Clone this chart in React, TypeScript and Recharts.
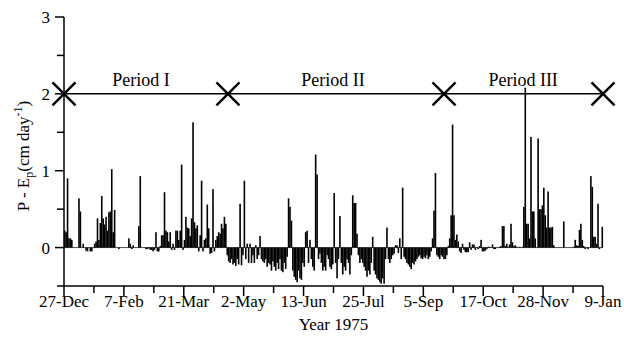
import React from 'react';
import { ComposedChart, Bar, Scatter, XAxis, YAxis, ReferenceLine } from 'recharts';

// Daily P - Ep (cm/day), from 27-Dec-1974 (day 0) to 8-Jan-1976 (day 377)
const peValues: number[] = [
  0.22, 0.2, 0.9, 0.12, 0.12, 0.1, 0, 0, 0, 0, 0.64, 0.47, 0, 0.05, 0, -0.04, -0.05, 0, -0.05, -0.05, 0,
  0.05, 0.08, 0.38, 0.1, 0.32, 0.67, 0.38, 0.3, 0.4, 0.22, 0.46, 0.47, 1.02, 0.2, 0.49, 0, 0, -0.02, 0, 0, 0,
  0, 0, 0, 0.12, 0.05, -0.02, 0.03, 0, 0, 0, 0.28, 0.93, 0, 0, 0, -0.02, -0.02, -0.01, -0.03, -0.03, -0.05,
  -0.03, 0.2, -0.05, -0.05, 0.02, 0.16, 0.16, 0.72, 0.22, 0.2, 0.08, 0.2, -0.03, 0.05, -0.03, 0.22, 0.22, 0.1, 0.22, 1.08, -0.03,
  0.1, 0.4, 0.26, 0.25, 0.15, 0.38, 1.63, 0.33, 0.25, 0.29, -0.05, 0.16, 0.87, -0.05, 0.1, 0.12, 0.56, 0.25, -0.08, -0.07, 0.76,
  -0.05, 0.1, 0.15, 0.2, 0.18, 0.31, 0.25, 0.4, 0.31, -0.1, -0.18, -0.2, -0.15, -0.22, -0.2, -0.24, -0.15, -0.22, 0.57, -0.23, -0.1,
  0.87, -0.15, 0.05, -0.2, 0.05, -0.2, -0.1, -0.2, 0.03, -0.15, -0.1, 0.15, -0.15, -0.18, -0.2, -0.15, -0.25, -0.2, -0.22, -0.3, -0.18,
  -0.25, -0.3, -0.2, -0.28, -0.15, -0.3, -0.32, -0.2, -0.28, -0.12, 0.64, 0.53, 0.35, -0.3, -0.38, -0.42, -0.45, -0.3, -0.4, -0.42, -0.2,
  -0.25, 0.2, 0.22, -0.2, 0.1, -0.15, -0.25, -0.3, 1.21, 0.95, -0.15, -0.08, -0.2, -0.3, -0.25, -0.3, -0.1, -0.15, -0.25, -0.28, -0.22,
  0.71, -0.2, -0.4, -0.15, 0.41, -0.2, -0.35, -0.25, -0.3, -0.15, -0.2, -0.35, -0.1, 0.68, 0.58, 0.58, 0.18, -0.1, -0.2, -0.15, -0.2,
  -0.25, -0.3, -0.38, -0.3, -0.35, -0.2, 0.14, -0.3, -0.35, -0.4, -0.42, -0.45, -0.47, -0.4, -0.47, -0.15, 0.26, -0.15, -0.2, -0.15, -0.1,
  -0.08, 0.03, 0.03, -0.07, 0.12, -0.15, 0.78, -0.12, -0.15, -0.2, -0.22, -0.25, -0.28, -0.2, -0.22, -0.18, -0.15, -0.12, -0.1, -0.14, -0.15,
  -0.12, -0.14, -0.1, -0.15, -0.12, -0.05, 0.12, 0.48, 0.97, -0.1, -0.12, -0.15, -0.1, -0.12, -0.15, -0.15, -0.1, 0.02, 0.12, 0.42, 1.6,
  0.42, 0.1, 0.17, 0.08, -0.05, -0.07, 0.05, -0.03, -0.06, -0.06, -0.06, 0.07, -0.03, 0.04, 0.04, -0.03, 0, -0.02, 0.02, 0.1, -0.05,
  -0.05, -0.04, -0.02, 0.01, 0.01, 0, 0.04, -0.02, -0.02, 0, 0, 0.01, 0.02, 0.28, 0.28, 0.02, 0.05, 0.01, 0.04, 0.31, 0.07,
  0.02, 0.03, 0.01, 0, 0.01, 0, 0.01, 0.53, 2.08, 0.31, 0.31, 0.12, 1.44, 0.47, 0.47, 0.12, 0, 1.42, 0.5, 0.5, 0.55,
  0.78, 0.42, 0.26, 0.73, 0.26, 0.26, 0.27, 0.03, 0, 0, 0, 0, 0, 0, 0.34, 0, 0, 0, 0, 0, 0,
  0.01, 0.1, 0.03, 0.02, 0.23, 0.31, 0.1, 0.02, -0.02, 0, -0.02, 0, 0.93, 0.79, 0.14, 0.14, 0.05, 0.57, -0.02, 0, 0.27,
];

const tickDays = [0, 21, 42, 63, 84, 105, 126, 147, 168, 189, 210, 231, 252, 273, 294, 315, 336, 357, 378];
const tickLabels = ['27-Dec', '7-Feb', '21-Mar', '2-May', '13-Jun', '25-Jul', '5-Sep', '17-Oct', '28-Nov', '9-Jan'];
const yTicks = [-0.5, 0, 0.5, 1, 1.5, 2, 2.5, 3];

const periodLevel = 2;
const periodMarkerDays = [0, 115, 266.5, 378];
const periodNames = ['Period I', 'Period II', 'Period III'];
const periodLabelDays = [54, 188.6, 322];

const table = peValues.map((v, i) => ({ day: i + 0.5, v }));
const markerData = periodMarkerDays.map((d) => ({ day: d, v: periodLevel }));
const labelData = periodNames.map((name, i) => ({ day: periodLabelDays[i], v: periodLevel, name }));

const FONT = '"Liberation Serif", "Times New Roman", serif';

const XTick = (props: any) => {
  const { x, y, payload } = props;
  const idx = tickDays.indexOf(payload.value);
  const major = idx % 2 === 0;
  const label = major ? tickLabels[idx / 2] : null;
  return (
    <g>
      <line x1={x} x2={x} y1={y} y2={y + (major ? 10 : 7)} stroke="#000" strokeWidth={1.5} />
      {label && (
        <text x={x} y={y + 21} textAnchor="middle" fontFamily={FONT} fontSize={17} fill="#000">
          {label}
        </text>
      )}
    </g>
  );
};

const YTick = (props: any) => {
  const { x, y, payload } = props;
  const v = payload.value;
  const isInt = Number.isInteger(v);
  return (
    <g>
      <line x1={x - (isInt ? 9 : 7)} x2={x} y1={y} y2={y} stroke="#000" strokeWidth={1.5} />
      {isInt && (
        <text x={x - 14} y={y} dy="0.35em" textAnchor="end" fontFamily={FONT} fontSize={17} fill="#000">
          {v}
        </text>
      )}
    </g>
  );
};

const YLabel = () => (
  <text
    x={29}
    y={156}
    transform="rotate(-90, 29, 156)"
    textAnchor="middle"
    fontFamily={FONT}
    fontSize={17}
    fill="#000"
  >
    P - E
    <tspan fontSize={12} dy={4}>p</tspan>
    <tspan dy={-4}>(cm day</tspan>
    <tspan fontSize={12} dy={-7}>-1</tspan>
    <tspan dy={7}>)</tspan>
  </text>
);

const XLabel = () => (
  <text x={333.5} y={330} textAnchor="middle" fontFamily={FONT} fontSize={17} fill="#000">
    Year 1975
  </text>
);

const BarShape = (props: any) => {
  const { x, y, width, height } = props;
  if (x == null || y == null || !height) return <g />;
  const cx = x + (width || 0) / 2;
  const top = Math.min(y, y + height);
  const h = Math.abs(height);
  return <rect x={cx - 0.8} y={top} width={1.6} height={h} fill="#000" />;
};

const CrossShape = (props: any) => {
  const { cx, cy } = props;
  const s = 11.5;
  return (
    <g>
      <line x1={cx - s} y1={cy - s} x2={cx + s} y2={cy + s} stroke="#000" strokeWidth={2.4} />
      <line x1={cx - s} y1={cy + s} x2={cx + s} y2={cy - s} stroke="#000" strokeWidth={2.4} />
    </g>
  );
};

const PeriodLabel = (props: any) => {
  const { cx, cy, payload } = props;
  return (
    <text x={cx} y={cy - 8} textAnchor="middle" fontFamily={FONT} fontSize={18} fill="#000">
      {payload.name}
    </text>
  );
};

export default function App() {
  return (
    <div style={{ position: 'absolute', left: 0, top: 0, width: 624, height: 344, background: '#fff' }}>
      <ComposedChart
        width={624}
        height={344}
        data={table}
        margin={{ top: 17, right: 21, left: 0, bottom: 0 }}
      >
        <XAxis
          dataKey="day"
          type="number"
          domain={[0, 378]}
          ticks={tickDays}
          interval={0}
          height={58}
          tickSize={0}
          tickMargin={0}
          tickLine={false}
          axisLine={{ stroke: '#000', strokeWidth: 1.5 }}
          tick={<XTick />}
          label={<XLabel />}
        />
        <YAxis
          type="number"
          domain={[-0.5, 3]}
          ticks={yTicks}
          interval={0}
          width={64}
          tickSize={0}
          tickMargin={0}
          tickLine={false}
          axisLine={{ stroke: '#000', strokeWidth: 1.5 }}
          tick={<YTick />}
          label={<YLabel />}
        />
        <ReferenceLine y={0} stroke="#000" strokeWidth={0.7} />
        <ReferenceLine y={periodLevel} stroke="#000" strokeWidth={1.5} />
        <Bar dataKey="v" fill="#000" barSize={1.4} shape={<BarShape />} isAnimationActive={false} />
        <Scatter data={markerData} dataKey="v" shape={<CrossShape />} isAnimationActive={false} />
        <Scatter data={labelData} dataKey="v" shape={<PeriodLabel />} isAnimationActive={false} />
      </ComposedChart>
    </div>
  );
}
